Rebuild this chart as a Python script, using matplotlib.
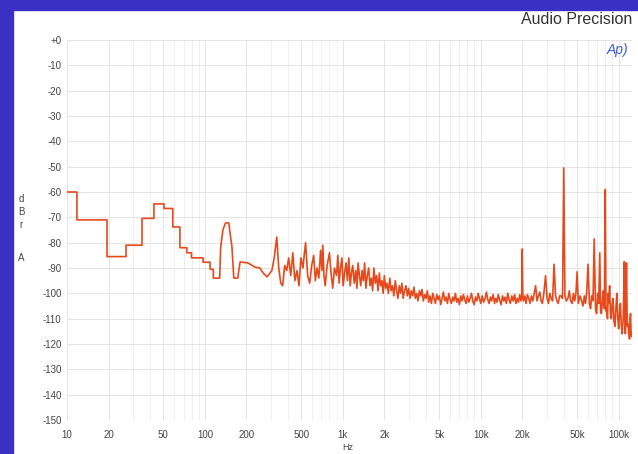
import matplotlib
matplotlib.use("Agg")
import matplotlib.pyplot as plt
from matplotlib.patches import Rectangle
from matplotlib.ticker import FixedLocator, NullFormatter

plt.rcParams['font.family'] = ['Liberation Sans', 'DejaVu Sans']

# (Hz, dBrA), low band drawn as FFT steps
low_band = [(10, -60), (11.8, -60), (11.8, -71), (19.5, -71), (19.5, -85.5), (26.8, -85.5),
            (26.8, -81), (35, -81), (35, -70.4), (42.7, -70.4), (42.7, -64.7), (50.5, -64.7),
            (50.5, -66.5), (58.5, -66.5), (58.5, -73.8), (65.9, -73.8), (65.9, -82), (74, -82),
            (74, -84), (80, -84), (80, -86), (97, -86), (97, -87.7), (109, -87.7), (109, -90.5),
            (115, -90.5), (115, -94), (128, -94), (130, -82), (135, -75), (141, -72.2),
            (149, -72.2), (152, -76), (157, -81.6), (162, -94), (173, -94), (180, -87.6),
            (205, -88), (230, -89.6), (250, -90), (265, -92), (282, -93.5)]

mid_band = [(306, -91), (318, -86), (332, -77.8), (343, -90), (355, -96), (366, -97), (379, -89),
            (392, -91), (405, -86), (419, -93), (434, -84), (449, -95), (465, -91), (481, -97),
            (497, -86), (514, -90), (527, -84), (537, -80), (556, -93), (575, -96), (595, -89),
            (615, -85), (632, -95), (650, -90), (670, -94), (690, -83), (705, -91), (716, -81),
            (730, -93), (745, -97), (770, -89), (800, -84), (822, -92), (845, -98), (870, -90),
            (900, -93), (920, -85), (940, -96), (962, -90), (985, -86), (1005, -97), (1030, -92),
            (1055, -88), (1080, -95), (1105, -86), (1130, -97), (1155, -92), (1180, -89),
            (1210, -96), (1240, -91), (1265, -98), (1290, -88), (1320, -93), (1350, -97),
            (1380, -91), (1410, -95), (1440, -88), (1470, -98), (1505, -93), (1540, -90),
            (1575, -97), (1610, -94), (1645, -99), (1680, -90), (1720, -96), (1760, -93),
            (1800, -99), (1840, -92), (1880, -97), (1920, -95), (1960, -100), (2000, -93),
            (2045, -98), (2090, -96), (2140, -100), (2190, -94), (2240, -99), (2290, -97),
            (2345, -101), (2400, -95), (2455, -99), (2510, -102), (2565, -97), (2620, -100),
            (2680, -96), (2740, -102), (2800, -99), (2870, -97), (2935, -101), (3000, -98),
            (3070, -102), (3140, -99), (3210, -101), (3280, -97.5), (3355, -102), (3430, -100),
            (3510, -103), (3590, -99), (3670, -101), (3750, -98.5), (3835, -103), (3920, -100.5),
            (4010, -102), (4100, -99), (4195, -103.5), (4290, -101), (4390, -104), (4490, -100)]

floor_band = [(4590, -102), (4690, -104), (4795, -100.5), (4900, -102.5), (5015, -101),
              (5130, -104.5), (5245, -102), (5360, -99.5), (5485, -103), (5610, -101.5),
              (5735, -104), (5860, -100), (5995, -102.5), (6130, -104), (6270, -101.5),
              (6410, -103), (6555, -100), (6700, -103.5), (6855, -102), (7010, -104.5),
              (7170, -101), (7330, -103), (7495, -100.5), (7660, -102.5), (7835, -104),
              (8010, -101), (8195, -103.5), (8380, -102), (8570, -100), (8760, -103),
              (8960, -104.5), (9160, -101.5), (9370, -103), (9580, -100), (9790, -102),
              (10000, -104), (10250, -101), (10500, -103.5), (10750, -102), (11000, -99.5),
              (11250, -102.5), (11500, -104), (11750, -101.5), (12000, -103), (12300, -100.5),
              (12600, -104), (12850, -102), (13100, -103.5), (13400, -100.5), (13700, -102.5),
              (14050, -104.5), (14400, -101), (14700, -103), (15000, -101.5), (15350, -104),
              (15700, -100), (16050, -102.5), (16400, -104), (16800, -101), (17200, -103),
              (17600, -100.5), (18000, -104), (18400, -102), (18800, -103.5), (19200, -100.5),
              (19600, -103), (19850, -101)]

spur_band = [(20000, -82.5), (20200, -101), (20400, -103), (20850, -101), (21300, -104),
             (21800, -100.5), (22300, -102), (22800, -104), (23300, -101), (23850, -103),
             (24400, -100), (25000, -97), (25600, -103), (26200, -101), (26800, -99.5),
             (27400, -103), (28000, -104), (28700, -100), (29500, -93), (30300, -102),
             (31000, -104), (31700, -100), (32400, -102), (33200, -103), (34000, -88.5),
             (34900, -101), (35700, -103), (36500, -104), (37300, -101), (38200, -101),
             (39200, -102), (40000, -50.5), (40800, -101), (41800, -103), (42900, -102),
             (43900, -99), (44900, -103), (46000, -104), (47000, -100), (48000, -103),
             (49000, -100), (50000, -91.5), (51000, -104), (52500, -101), (53900, -103),
             (55100, -105), (56400, -101), (57500, -104), (58600, -100), (60000, -88.5),
             (61400, -104), (62600, -106), (63800, -101), (65200, -103), (66500, -78.5),
             (68000, -106), (69200, -108), (70500, -100), (71700, -104), (73000, -84),
             (74000, -107), (75000, -108), (76200, -103), (77500, -99), (78800, -106),
             (80000, -59), (81000, -107), (82000, -106), (83000, -110), (84000, -100),
             (85000, -104), (86000, -97), (87200, -108), (88500, -110), (89700, -104),
             (91000, -102), (92500, -111), (94000, -113), (95500, -106), (97000, -100),
             (98500, -109), (100000, -114), (101500, -108), (103000, -104), (104500, -112),
             (106000, -116), (108000, -110), (110000, -87.5), (111000, -114), (112000, -116),
             (113000, -105), (114000, -88), (115500, -113), (117000, -112), (118500, -116),
             (120000, -118), (121000, -110), (122000, -108), (123000, -115), (124000, -117)]

y_ticks = list(range(0, -151, -10))
y_labels = ['+0'] + [str(v) for v in y_ticks[1:]]
x_ticks = [10, 20, 50, 100, 200, 500, 1000, 2000, 5000, 10000, 20000, 50000, 100000]
x_labels = ['10', '20', '50', '100', '200', '500', '1k', '2k', '5k', '10k', '20k', '50k', '100k']

freq, level = zip(*(low_band + mid_band + floor_band + spur_band))

fig = plt.figure(figsize=(6.38, 4.54), dpi=100)
fig.patch.set_facecolor('white')
# blue frame of the scanned page
fig.patches.append(Rectangle((0, 0), 13 / 638, 1, transform=fig.transFigure,
                             color='#3b30c4', zorder=0))
fig.patches.append(Rectangle((0, 1 - 10 / 454), 1, 10 / 454, transform=fig.transFigure,
                             color='#3b30c4', zorder=0))

ax = fig.add_axes([67 / 638, 34 / 454, 565 / 638, 380 / 454])
ax.plot(freq, level, color='#e64a1c', lw=1.2)

ax.set_xscale('log')
ax.set_xlim(10, 125000)
ax.set_ylim(-150, 0)
ax.set_xticks(x_ticks)
ax.set_xticklabels(x_labels)
ax.xaxis.set_minor_locator(FixedLocator(
    [m * 10 ** e for e in range(1, 6) for m in range(2, 10) if m * 10 ** e < 125000]))
ax.xaxis.set_minor_formatter(NullFormatter())
ax.set_yticks(y_ticks)
ax.set_yticklabels(y_labels)
ax.grid(which='major', color='#e4e4e4', lw=0.7)
ax.grid(which='minor', axis='x', color='#ededed', lw=0.6)
ax.set_axisbelow(True)
for s in ax.spines.values():
    s.set_visible(False)
ax.tick_params(which='both', length=0, labelsize=7, colors='#444444')
ax.tick_params(axis='x', pad=7)
ax.tick_params(axis='y', pad=4)

# stacked unit label "dBr A"
fig.text(21 / 638, 1 - 212 / 454, 'd\nB\nr', fontsize=7, color='#444444',
         ha='center', va='center', linespacing=1.4)
fig.text(21 / 638, 1 - 258 / 454, 'A', fontsize=7, color='#444444', ha='center', va='center')
fig.text(348 / 638, 1 - 448 / 454, 'Hz', fontsize=6.5, color='#444444', ha='center', va='center')
fig.text(632 / 638, 1 - 20 / 454, 'Audio Precision', fontsize=11.5, color='#333333',
         ha='right', va='center')
fig.text(628 / 638, 1 - 50 / 454, 'Ap)', fontsize=10, color='#3d5fd0', style='italic',
         ha='right', va='center')

fig.savefig('out.png', dpi=100)
